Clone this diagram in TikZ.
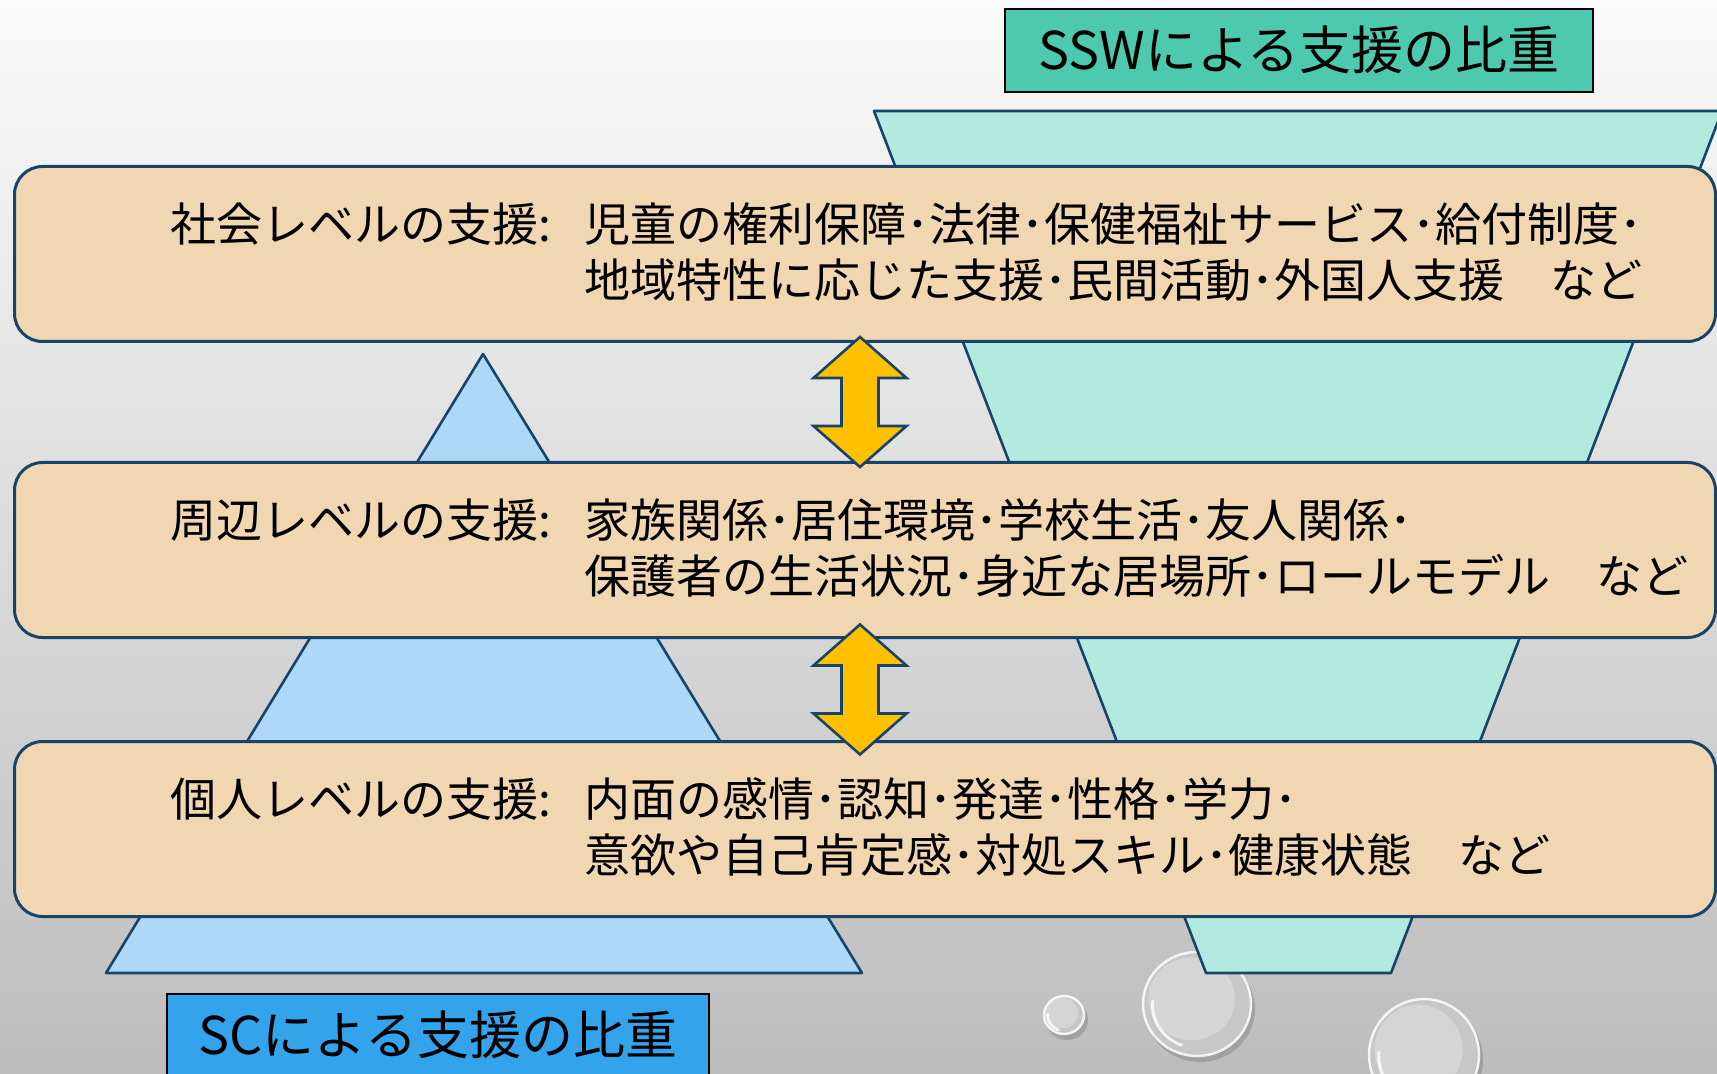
\documentclass[tikz,border=0pt]{standalone}
\usepackage{fontspec}
\setmainfont{Noto Sans CJK JP}
\usetikzlibrary{calc}
\definecolor{NavyLine}{RGB}{24,68,106}
\definecolor{BoxFill}{RGB}{241,214,178}
\definecolor{TealFill}{RGB}{179,234,223}
\definecolor{SkyFill}{RGB}{173,217,247}
\definecolor{SSWFill}{RGB}{76,201,174}
\definecolor{SCFill}{RGB}{51,163,235}
\definecolor{ArrowFill}{RGB}{255,192,0}

\begin{document}
\begin{tikzpicture}[
    x=0.5pt, y=-0.5pt,
    levelbox/.style={
        rectangle, rounded corners=14pt, draw=NavyLine, line width=1.5pt,
        fill=BoxFill, minimum width=850.5pt, minimum height=87.5pt,
        anchor=north west, inner sep=0pt
    },
    lvtext/.style={font=\fontsize{23}{28}\selectfont, anchor=west, inner sep=0pt},
    weight/.style={draw=NavyLine, line width=1.3pt, line join=round},
    tag/.style={rectangle, draw=black, line width=0.8pt, anchor=north west,
                font=\fontsize{26}{30}\selectfont, inner sep=0pt},
    dblarr/.style={fill=ArrowFill, draw=NavyLine, line width=1.3pt, line join=miter}
]

% backdrop
\useasboundingbox (0,0) rectangle (1717,1074);
\clip (0,0) rectangle (1717,1074);
\shade[top color=black!2, bottom color=black!26] (0,0) rectangle (1717,1074);

% water drops
\foreach \cx/\cy/\rx/\ry in {1064/1015/20/19, 1197/1004/54/52, 1424/1055/55/56} {
    \fill[black!70, opacity=0.25] (\cx+3,\cy+5) ellipse[x radius=\rx+1, y radius=\ry+1];
    \fill[black!22] (\cx,\cy) ellipse[x radius=\rx, y radius=\ry];
    \fill[white, opacity=0.25] (\cx-0.1*\rx,\cy-0.1*\ry) ellipse[x radius=0.8*\rx, y radius=0.8*\ry];
    \draw[white, line width=1.2pt, opacity=0.85] (\cx,\cy) ellipse[x radius=\rx, y radius=\ry];
    \draw[white, line width=1.5pt, opacity=0.8, line cap=round]
        (\cx-0.82*\rx,\cy-0.05*\ry) arc[start angle=185, end angle=110,
                                       x radius=0.82*\rx, y radius=0.82*\ry];
}

% weight of each kind of support
\draw[weight, fill=TealFill] (874,111) -- (1722,111) -- (1391,973) -- (1206,973) -- cycle;
\draw[weight, fill=SkyFill] (483,354) -- (862,973) -- (106,973) -- cycle;

\node[tag, fill=SSWFill, minimum width=294pt, minimum height=41.5pt] (sswtag) at (1004,8)
    {SSWによる支援の比重};
\node[tag, fill=SCFill, minimum width=271pt, minimum height=41pt] (sctag) at (166,993)
    {SCによる支援の比重};

% levels
\node[levelbox] (soc) at (13,165) {};
\node[levelbox] (env) at (13,461) {};
\node[levelbox] (ind) at (13,740) {};

\node[lvtext] (soctext) at ($(soc.west)+(157,4)$) {\begin{tabular}{@{}p{207pt}@{}l@{}}
    社会レベルの支援: & 児童の権利保障･法律･保健福祉サービス･給付制度･\\
    & 地域特性に応じた支援･民間活動･外国人支援　など\end{tabular}};
\node[lvtext] (envtext) at ($(env.west)+(157,4)$) {\begin{tabular}{@{}p{207pt}@{}l@{}}
    周辺レベルの支援: & 家族関係･居住環境･学校生活･友人関係･\\
    & 保護者の生活状況･身近な居場所･ロールモデル　など\end{tabular}};
\node[lvtext] (indtext) at ($(ind.west)+(157,4)$) {\begin{tabular}{@{}p{207pt}@{}l@{}}
    個人レベルの支援: & 内面の感情･認知･発達･性格･学力･\\
    & 意欲や自己肯定感･対処スキル･健康状態　など\end{tabular}};

% two-way arrows between levels
\foreach \a/\b in {soc/env, env/ind} {
    \coordinate (mid) at ($(\a.south)!0.5!(\b.north)+(-5,0)$);
    \draw[dblarr] ($(mid)+(0,-65)$) -- ++(46.5,41) -- ++(-28,0) -- ++(0,48)
        -- ++(28,0) -- ++(-46.5,41) -- ++(-46.5,-41) -- ++(28,0) -- ++(0,-48)
        -- ++(-28,0) -- cycle;
}

\end{tikzpicture}
\end{document}
